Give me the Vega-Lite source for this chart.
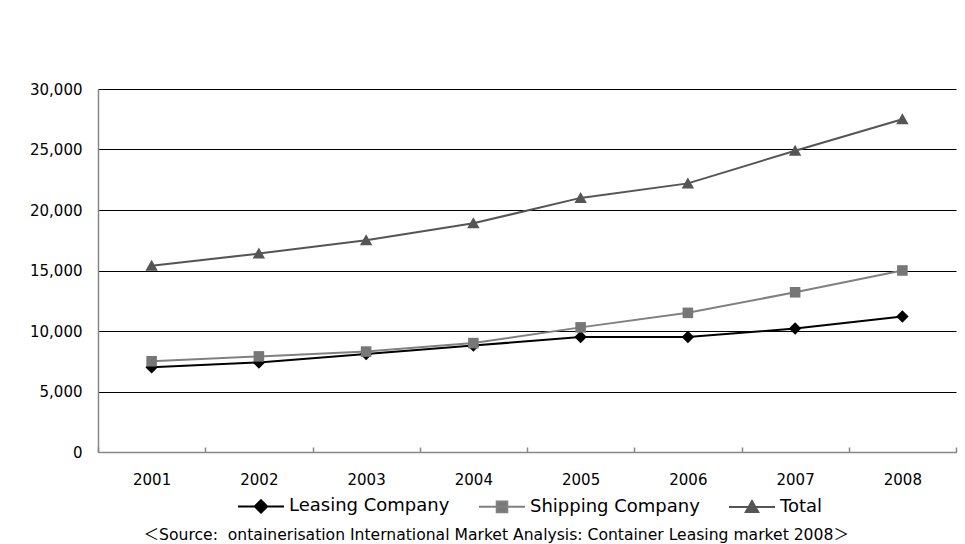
{
  "$schema": "https://vega.github.io/schema/vega-lite/v6.json",
  "autosize": {"type": "none"},
  "padding": {"left": 98, "top": 89, "right": 9, "bottom": 92},
  "width": 858,
  "height": 363,
  "background": "white",
  "config": {
    "view": {"stroke": null},
    "font": "DejaVu Sans",
    "axis": {"labelFont": "DejaVu Sans", "labelColor": "#000", "labelFontSize": 15, "title": null},
    "legend": {
      "labelFont": "DejaVu Sans",
      "labelFontSize": 18,
      "labelColor": "#000",
      "labelLimit": 400,
      "labelOffset": 4,
      "columnPadding": 25,
      "symbolSize": 2116,
      "direction": "horizontal",
      "orient": "none",
      "legendX": 139,
      "legendY": 393,
      "title": null
    }
  },
  "title": {
    "text": "＜Source: \u00a0ontainerisation International Market Analysis: Container Leasing market 2008＞",
    "orient": "bottom",
    "anchor": "start",
    "dx": 114,
    "offset": 11,
    "font": "DejaVu Sans, Noto Sans CJK JP",
    "fontSize": 15.6,
    "fontWeight": "normal",
    "color": "#000"
  },
  "data": {
    "values": [
      {"year": "2001", "series": "Leasing Company", "units": 7000},
      {"year": "2002", "series": "Leasing Company", "units": 7400},
      {"year": "2003", "series": "Leasing Company", "units": 8100},
      {"year": "2004", "series": "Leasing Company", "units": 8800},
      {"year": "2005", "series": "Leasing Company", "units": 9500},
      {"year": "2006", "series": "Leasing Company", "units": 9500},
      {"year": "2007", "series": "Leasing Company", "units": 10200},
      {"year": "2008", "series": "Leasing Company", "units": 11200},
      {"year": "2001", "series": "Shipping Company", "units": 7500},
      {"year": "2002", "series": "Shipping Company", "units": 7900},
      {"year": "2003", "series": "Shipping Company", "units": 8300},
      {"year": "2004", "series": "Shipping Company", "units": 9000},
      {"year": "2005", "series": "Shipping Company", "units": 10300},
      {"year": "2006", "series": "Shipping Company", "units": 11500},
      {"year": "2007", "series": "Shipping Company", "units": 13200},
      {"year": "2008", "series": "Shipping Company", "units": 15000},
      {"year": "2001", "series": "Total", "units": 15400},
      {"year": "2002", "series": "Total", "units": 16400},
      {"year": "2003", "series": "Total", "units": 17500},
      {"year": "2004", "series": "Total", "units": 18900},
      {"year": "2005", "series": "Total", "units": 21000},
      {"year": "2006", "series": "Total", "units": 22200},
      {"year": "2007", "series": "Total", "units": 24900},
      {"year": "2008", "series": "Total", "units": 27500}
    ]
  },
  "encoding": {
    "x": {
      "field": "year",
      "type": "ordinal",
      "bandPosition": 0.5,
      "scale": {"type": "band", "paddingInner": 0, "paddingOuter": 0},
      "axis": {
        "labelAngle": 0,
        "domainColor": "#888",
        "domainWidth": 1.5,
        "tickColor": "#888",
        "tickSize": -5,
        "tickWidth": 1.5,
        "tickBand": "extent",
        "labelPadding": 25,
        "grid": false
      }
    },
    "y": {
      "field": "units",
      "type": "quantitative",
      "scale": {"domain": [0, 30000], "nice": false},
      "axis": {
        "values": [0, 5000, 10000, 15000, 20000, 25000, 30000],
        "format": ",d",
        "grid": true,
        "gridColor": "#000",
        "gridWidth": 1.2,
        "gridOpacity": 1,
        "ticks": false,
        "domainColor": "#888",
        "domainWidth": 1.5,
        "labelPadding": 16
      }
    }
  },
  "layer": [
    {
      "mark": {"type": "line", "strokeWidth": 2},
      "encoding": {
        "stroke": {
          "field": "series",
          "type": "nominal",
          "scale": {
            "domain": ["Leasing Company", "Shipping Company", "Total"],
            "range": ["#000000", "#808080", "#555555"]
          },
          "legend": {
            "symbolType": "stroke",
            "symbolStrokeWidth": 2,
            "encode": {
              "symbols": {
                "update": {
                  "shape": {"signal": "datum.value === 'Leasing Company' ? 'M-1,0H1M0,-0.27L0.27,0L0,0.27L-0.27,0Z' : datum.value === 'Shipping Company' ? 'M-1,0H1M-0.23,-0.23H0.23V0.23H-0.23Z' : 'M-1,0H1M0,-0.26L0.27,0.22H-0.27Z'"},
                  "fill": {"signal": "datum.value === 'Leasing Company' ? '#000000' : datum.value === 'Shipping Company' ? '#777777' : '#555555'"},
                  "fillOpacity": {"value": 1},
                  "strokeWidth": {"value": 2}
                }
              }
            }
          }
        }
      }
    },
    {
      "mark": {"type": "point", "filled": true, "size": 2116, "opacity": 1, "strokeWidth": 0},
      "encoding": {
        "fill": {
          "field": "series",
          "type": "nominal",
          "scale": {"range": ["#000000", "#777777", "#555555"]},
          "legend": null
        },
        "shape": {
          "field": "series",
          "type": "nominal",
          "scale": {
            "range": [
              "M0,-0.27L0.27,0L0,0.27L-0.27,0Z",
              "M-0.23,-0.23H0.23V0.23H-0.23Z",
              "M0,-0.26L0.27,0.22H-0.27Z"
            ]
          },
          "legend": null
        }
      }
    }
  ]
}
